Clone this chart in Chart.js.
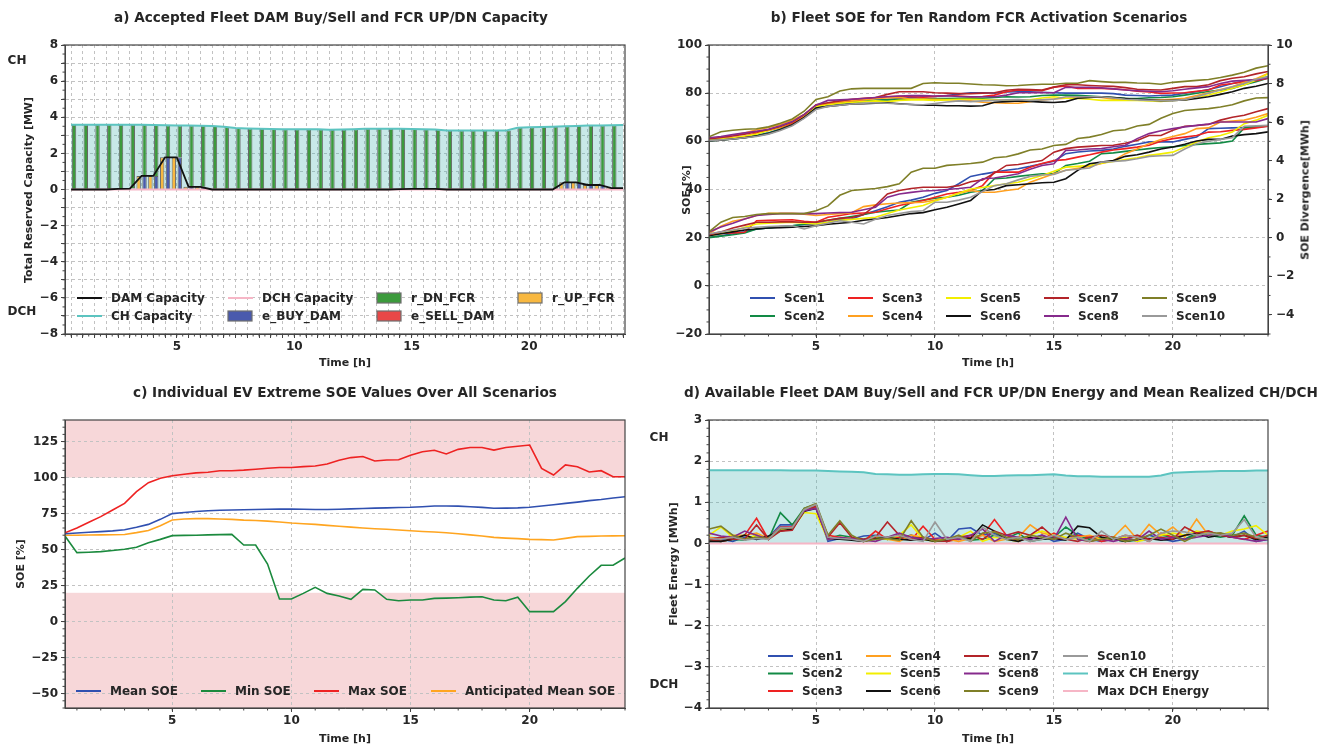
<!DOCTYPE html>
<html>
<head>
<meta charset="utf-8">
<script src="https://cdn.jsdelivr.net/npm/chart.js@4.4.1/dist/chart.umd.min.js"></script>
<style>
  body { margin: 0; width: 1338px; height: 749px; position: relative; overflow: hidden; background: #fff;
         font-family: "DejaVu Sans", sans-serif; color: #262626; }
  canvas { position: absolute; }
  .t { position: absolute; font-weight: bold; white-space: nowrap; transform: translate(-50%, -50%); font-size: 11px; }
  .h { font-size: 13.6px; }
  .r { transform: translate(-50%, -50%) rotate(-90deg); }
  .l { font-size: 12px; }
</style>
</head>
<body>
<canvas id="cA" width="669" height="374" style="left:0;top:0;width:669px;height:374px"></canvas>
<canvas id="cB" width="669" height="374" style="left:669px;top:0;width:669px;height:374px"></canvas>
<canvas id="cC" width="669" height="375" style="left:0;top:374px;width:669px;height:375px"></canvas>
<canvas id="cD" width="669" height="375" style="left:669px;top:374px;width:669px;height:375px"></canvas>

<div class="t h" style="left:331px;top:17px">a) Accepted Fleet DAM Buy/Sell and FCR UP/DN Capacity</div>
<div class="t h" style="left:979px;top:17px">b) Fleet SOE for Ten Random FCR Activation Scenarios</div>
<div class="t h" style="left:345px;top:392px">c) Individual EV Extreme SOE Values Over All Scenarios</div>
<div class="t h" style="left:1001px;top:392px">d) Available Fleet DAM Buy/Sell and FCR UP/DN Energy and Mean Realized CH/DCH</div>

<div class="t r" style="left:28px;top:190px">Total Reserved Capacity [MW]</div>
<div class="t" style="left:345px;top:362px">Time [h]</div>
<div class="t l" style="left:17px;top:60px">CH</div>
<div class="t l" style="left:22px;top:311px">DCH</div>

<div class="t r" style="left:686px;top:190px">SOE [%]</div>
<div class="t r" style="left:1305px;top:190px">SOE Divergence[MWh]</div>
<div class="t" style="left:988px;top:362px">Time [h]</div>

<div class="t r" style="left:20px;top:564px">SOE [%]</div>
<div class="t" style="left:345px;top:738px">Time [h]</div>

<div class="t r" style="left:673px;top:564px">Fleet Energy [MWh]</div>
<div class="t l" style="left:659px;top:437px">CH</div>
<div class="t l" style="left:664px;top:684px">DCH</div>
<div class="t" style="left:988px;top:738px">Time [h]</div>

<script>
// ---- data: half-hour steps ----
const hours = [0.5, 1, 1.5, 2, 2.5, 3, 3.5, 4, 4.5, 5, 5.5, 6, 6.5, 7, 7.5, 8, 8.5, 9, 9.5, 10,
  10.5, 11, 11.5, 12, 12.5, 13, 13.5, 14, 14.5, 15, 15.5, 16, 16.5, 17, 17.5, 18, 18.5, 19, 19.5, 20,
  20.5, 21, 21.5, 22, 22.5, 23, 23.5, 24];

// a) capacities [MW]
const damCap = [0, 0, 0, 0, 0.03, 0.05, 0.75, 0.75, 1.78, 1.78, 0.15, 0.15, 0, 0, 0, 0, 0, 0, 0, 0,
  0, 0, 0, 0, 0, 0, 0, 0, 0.02, 0.03, 0.04, 0.04, 0, 0, 0, 0, 0, 0, 0, 0,
  0, 0, 0.4, 0.4, 0.25, 0.25, 0.08, 0.08];
const chCap = [3.58, 3.58, 3.58, 3.58, 3.58, 3.58, 3.58, 3.57, 3.56, 3.55, 3.54, 3.53, 3.52, 3.48, 3.4, 3.38, 3.36, 3.35, 3.34, 3.33,
  3.34, 3.33, 3.31, 3.32, 3.34, 3.36, 3.37, 3.37, 3.36, 3.35, 3.34, 3.32, 3.27, 3.26, 3.26, 3.26, 3.26, 3.26, 3.42, 3.44,
  3.46, 3.48, 3.5, 3.52, 3.54, 3.55, 3.56, 3.57];
const dchCap = [0, 0, 0, 0, 0, 0, 0, 0, 0, 0, 0, 0, 0, 0, 0, 0, 0, 0, 0, 0,
  0, 0, 0, 0, 0, 0, 0, 0, 0, 0, 0, 0, 0, 0, 0, 0, 0, 0, 0, 0, 0, 0, 0, 0, 0, 0, 0, 0];
const eBuyDam = [0, 0, 0, 0, 0.03, 0.05, 0.75, 0.75, 1.78, 1.78, 0.15, 0.15, 0, 0, 0, 0, 0, 0, 0, 0,
  0, 0, 0, 0, 0, 0, 0, 0, 0.02, 0.03, 0.04, 0.04, 0, 0, 0, 0, 0, 0, 0, 0,
  0, 0, 0.4, 0.4, 0.25, 0.25, 0.08, 0.08];
const eSellDam = [0, 0, 0, 0, 0, 0, 0, 0, 0, 0, 0, 0, 0, 0, 0, 0, 0, 0, 0, 0,
  0, 0, 0, 0, 0, 0, 0, 0, 0, 0, 0, 0, 0, 0, 0, 0, 0, 0, 0, 0, 0, 0, 0, 0, 0, 0, 0, 0];
const rUpFcr = [0, 0, 0, 0, 0.03, 0.05, 0.75, 0.75, 1.78, 1.78, 0.15, 0.15, 0, 0, 0, 0, 0, 0, 0, 0,
  0, 0, 0, 0, 0, 0, 0, 0, 0.02, 0.03, 0.04, 0.04, 0, 0, 0, 0, 0, 0, 0, 0,
  0, 0, 0.4, 0.4, 0.25, 0.25, 0.08, 0.08];
const rDnFcr = [3.58, 3.58, 3.58, 3.58, 3.55, 3.53, 2.83, 2.82, 1.78, 1.77, 3.39, 3.38, 3.52, 3.48, 3.4, 3.38, 3.36, 3.35, 3.34, 3.33,
  3.34, 3.33, 3.31, 3.32, 3.34, 3.36, 3.37, 3.37, 3.34, 3.32, 3.3, 3.28, 3.27, 3.26, 3.26, 3.26, 3.26, 3.26, 3.42, 3.44,
  3.46, 3.48, 3.1, 3.12, 3.29, 3.3, 3.48, 3.49];

// b) fleet SOE [%] per scenario
const soe1 = [60.5, 61, 61.3, 61.8, 62.5, 63.5, 65, 67, 70, 74, 75, 75.6, 76, 76.5, 77, 77.3, 77.8, 78.2, 78.5, 78.6,
  79, 79.6, 80.2, 80.2, 80, 80.5, 80.6, 80.6, 80.4, 80.2, 80, 80, 80, 80, 79.8, 79.2, 79, 78.8, 79, 79.2,
  80, 80.6, 81.5, 82.7, 84, 85, 85.8, 86.8];
const soe2 = [60.2, 60.6, 61, 61.5, 62.3, 63.5, 65, 67.2, 70.3, 74.5, 75.3, 75.8, 76.2, 76.6, 77, 77.2, 77.4, 77.5, 77.6, 77.8,
  77.8, 77.9, 78, 77.9, 78.2, 78.5, 78.4, 78.5, 79, 79.2, 79.2, 79.1, 78.8, 78.5, 78.2, 77.9, 77.8, 78.1, 78.2, 78.5,
  79.2, 80, 80.7, 81.3, 82, 83.5, 84.8, 86.2];
const soe3 = [61, 61.2, 61.5, 62, 63.5, 64.5, 65.8, 67.5, 70.5, 74.8, 75.5, 76.2, 76.8, 77.3, 78, 78.5, 78.7, 78.5, 78.3, 78.6,
  79, 78.8, 78.5, 78.6, 79.2, 80.6, 81.3, 81.2, 81, 82.5, 83, 82, 82, 82, 81.8, 81.4, 80.8, 80.5, 79.9, 80.1,
  80.2, 80.8, 81.3, 83.4, 84, 84.8, 85.2, 86.2];
const soe4 = [60.8, 61.5, 62.5, 63.5, 64.8, 65.8, 67, 68.8, 71.2, 75, 75.8, 76.5, 77, 77.3, 77.8, 78, 78.2, 77.5, 77.6, 77.5,
  77.3, 77.2, 76.8, 76.2, 76, 75.8, 75.8, 76.5, 77.2, 77.6, 77.9, 78.2, 78.5, 78.2, 77.5, 77.3, 77.2, 77.2, 77.2, 77.5,
  77.9, 79, 80.2, 81.5, 82.7, 84.5, 86, 88.2];
const soe5 = [60.5, 61, 61.5, 62.2, 63, 64.5, 66, 68, 70.8, 74.5, 75.2, 75.8, 76.2, 76.5, 76.8, 76.5, 77, 77.2, 77.2, 77,
  77.2, 77.5, 77.5, 77.3, 77.2, 77, 77, 77.2, 78, 78.5, 77.9, 77.8, 77.5, 77, 77, 77, 77, 76.8, 76.6, 77,
  77.2, 78.2, 79.2, 80.5, 82, 83.4, 85.5, 88];
const soe6 = [60.2, 60.5, 61, 61.5, 62.2, 63.2, 64.8, 66.8, 69.8, 73.8, 74.5, 75, 75.5, 75.6, 75.8, 76, 75.6, 75.3, 75, 75,
  74.8, 74.8, 74.6, 74.8, 76.2, 76.5, 76.8, 76.6, 76.3, 76.1, 76.5, 77.9, 78.2, 78.5, 78.2, 77.8, 77.5, 77.2, 76.9, 77,
  77.2, 77.8, 78.5, 79.5, 80.6, 82, 82.9, 84];
const soe7 = [61, 61.6, 62.2, 63, 64, 64.8, 66.2, 68, 71, 75.2, 76, 76.8, 77.5, 77.9, 78.2, 79.5, 80.6, 80.6, 80.6, 80.2,
  80, 79.8, 79.8, 80, 80.2, 81.2, 81.6, 81.5, 81.3, 82.5, 83.5, 83.5, 83.2, 83, 82.8, 82.3, 81.6, 81.4, 81.3, 82,
  82.7, 82.7, 83.5, 85.2, 86.2, 86.8, 88, 89];
const soe8 = [61.5, 62, 62.8, 63.5, 64.2, 65, 66.5, 68.2, 71.2, 75, 77, 77.2, 77.5, 77.8, 78.2, 78.5, 78.8, 79, 79, 78.8,
  78.9, 78.6, 78.5, 78.5, 78.5, 79.2, 80.2, 80.2, 80.2, 80.2, 82.4, 82.4, 82.4, 82.2, 81.8, 81.3, 81, 80.8, 80.6, 81,
  81.6, 82.2, 82.7, 84, 85, 85.3, 85.5, 86.4];
const soe9 = [61.9, 64, 64.6, 65, 65.2, 66, 67.5, 69.3, 72.5, 77.4, 78.5, 80.9, 81.8, 82, 82, 82, 82, 82, 84, 84.3,
  84.1, 84.1, 83.8, 83.5, 83.4, 83.1, 83.2, 83.5, 83.7, 83.7, 84.1, 84.1, 85.2, 84.8, 84.5, 84.5, 84.2, 84.1, 83.7, 84.5,
  84.9, 85.3, 85.7, 86.5, 87.5, 88.7, 90.4, 91.4];
const soe10 = [60.3, 60.6, 61, 61.5, 62, 63, 64.5, 66.5, 69.5, 73.2, 74.5, 75, 75.5, 75.8, 76, 75.8, 75.5, 75.3, 75.2, 75.7,
  76.3, 76.8, 76.5, 76.8, 77, 77.2, 77.3, 77, 77.2, 77.5, 78.5, 78.5, 78.5, 78.5, 78, 77.5, 77.2, 77, 76.9, 76.9,
  77.3, 78.5, 80, 81.3, 82.7, 84, 85.8, 86.8];

// b) SOE divergence [MWh] per scenario
const div1 = [0.02, 0.1, 0.2, 0.3, 0.45, 0.5, 0.58, 0.62, 0.68, 0.71, 0.8, 0.92, 0.97, 1.2, 1.4, 1.6, 1.84, 1.95, 2.1, 2.3,
  2.45, 2.8, 3.18, 3.3, 3.4, 3.5, 3.58, 3.7, 3.84, 3.97, 4.36, 4.45, 4.5, 4.53, 4.6, 4.74, 4.85, 4.97, 4.97, 4.97,
  5.1, 5.22, 5.66, 5.68, 5.7, 5.72, 5.75, 5.78];
const div2 = [0, 0.08, 0.15, 0.25, 0.45, 0.5, 0.55, 0.62, 0.7, 0.8, 0.9, 1, 1.1, 1.2, 1.32, 1.38, 1.44, 1.84, 1.95, 2.05,
  2.1, 2.2, 2.36, 2.45, 3.06, 3.1, 3.18, 3.25, 3.32, 3.32, 3.75, 3.85, 3.97, 4.36, 4.4, 4.48, 4.55, 4.62, 4.68, 4.71,
  4.78, 4.84, 4.88, 4.92, 5.02, 5.7, 5.75, 5.8];
const div3 = [0.2, 0.22, 0.25, 0.28, 0.88, 0.9, 0.92, 0.93, 0.85, 0.8, 1.06, 1.15, 1.25, 1.28, 1.32, 1.5, 1.67, 1.8, 1.93, 2.1,
  2.27, 2.35, 2.45, 2.7, 3.4, 3.4, 3.4, 3.66, 3.85, 4, 4.05, 4.18, 4.3, 4.44, 4.55, 4.62, 4.7, 4.8, 5, 5.14,
  5.22, 5.3, 5.48, 5.5, 5.57, 5.62, 5.7, 5.78];
const div4 = [0.2, 0.6, 0.85, 0.97, 1.15, 1.27, 1.27, 1.27, 1.22, 1.15, 1.2, 1.25, 1.3, 1.61, 1.7, 1.76, 1.8, 1.82, 1.84, 1.95,
  2.1, 2.3, 2.45, 2.36, 2.36, 2.45, 2.53, 2.88, 3.1, 3.32, 3.5, 3.6, 3.7, 3.85, 4, 4.36, 4.6, 4.88, 5.1, 5.25,
  5.4, 5.66, 5.7, 6, 6.05, 6.1, 6.25, 6.44];
const div5 = [0.1, 0.2, 0.35, 0.54, 0.71, 0.75, 0.78, 0.8, 0.75, 0.71, 0.8, 0.9, 0.95, 1, 1.06, 1.25, 1.44, 1.55, 1.67, 1.9,
  2.1, 2.3, 2.53, 2.6, 2.7, 2.8, 2.88, 3.05, 3.23, 3.45, 3.66, 3.7, 3.75, 3.87, 3.95, 4.05, 4.15, 4.27, 4.35, 4.44,
  4.7, 4.97, 5.19, 5.3, 5.48, 5.92, 6.1, 6.35];
const div6 = [0.1, 0.2, 0.3, 0.4, 0.45, 0.5, 0.52, 0.54, 0.58, 0.62, 0.7, 0.75, 0.8, 0.9, 0.97, 1.05, 1.15, 1.25, 1.3, 1.45,
  1.58, 1.75, 1.93, 2.45, 2.5, 2.7, 2.75, 2.8, 2.85, 2.88, 3.06, 3.49, 3.84, 3.92, 4, 4.22, 4.3, 4.44, 4.6, 4.71,
  4.85, 5.02, 5.1, 5.1, 5.27, 5.35, 5.4, 5.49];
const div7 = [0.15, 0.3, 0.5, 0.65, 0.8, 0.8, 0.82, 0.82, 0.8, 0.8, 0.9, 1, 1.05, 1.2, 1.67, 2.27, 2.45, 2.55, 2.62, 2.62,
  2.62, 2.7, 2.9, 3, 3.35, 3.75, 3.8, 3.9, 4, 4.44, 4.62, 4.7, 4.74, 4.78, 4.8, 4.9, 5.05, 5.3, 5.3, 5.57,
  5.78, 5.82, 5.88, 6.1, 6.25, 6.35, 6.53, 6.7];
const div8 = [0.3, 0.55, 0.75, 0.97, 1.15, 1.2, 1.25, 1.25, 1.25, 1.25, 1.28, 1.3, 1.32, 1.45, 1.58, 2.1, 2.27, 2.35, 2.42, 2.45,
  2.5, 2.55, 2.62, 3.06, 3.1, 3.2, 3.32, 3.55, 3.75, 3.84, 4.53, 4.55, 4.6, 4.62, 4.72, 4.8, 5.14, 5.4, 5.55, 5.66,
  5.75, 5.83, 5.9, 6, 6, 6, 6, 6.18];
const div9 = [0.3, 0.8, 1.05, 1.1, 1.2, 1.25, 1.25, 1.25, 1.25, 1.4, 1.65, 2.2, 2.45, 2.5, 2.55, 2.65, 2.8, 3.4, 3.6, 3.6,
  3.75, 3.8, 3.85, 3.92, 4.15, 4.2, 4.35, 4.55, 4.6, 4.78, 4.84, 5.15, 5.22, 5.35, 5.55, 5.6, 5.8, 5.88, 6.2, 6.45,
  6.6, 6.65, 6.7, 6.78, 6.9, 7.1, 7.25, 7.27];
const div10 = [0.2, 0.3, 0.4, 0.5, 0.54, 0.58, 0.6, 0.62, 0.45, 0.62, 0.75, 0.88, 0.8, 0.71, 0.95, 1.15, 1.25, 1.35, 1.4, 1.84,
  1.84, 1.95, 2.1, 2.4, 2.7, 2.8, 3, 3.18, 3.25, 3.28, 3.5, 3.55, 3.62, 3.92, 3.95, 4, 4.1, 4.22, 4.25, 4.27,
  4.6, 4.88, 5, 5.1, 5.19, 5.78, 5.8, 5.83];

// c) extreme SOE values [%]
const meanSoe = [61, 61.5, 62, 62.5, 63, 63.8, 65.5, 67.5, 71, 75, 75.8, 76.5, 77, 77.3, 77.5, 77.7, 77.8, 78, 78.1, 78.2,
  78, 77.8, 77.8, 78, 78.3, 78.5, 78.8, 79, 79.2, 79.4, 79.8, 80.3, 80.3, 80.2, 79.8, 79.3, 78.7, 78.8, 79, 79.4,
  80.3, 81.2, 82.1, 83, 84, 84.8, 85.8, 86.7];
const minSoe = [59.4, 47.9, 48.2, 48.6, 49.4, 50.2, 51.6, 54.8, 57.1, 59.7, 59.9, 60, 60.2, 60.4, 60.6, 53.2, 53.2, 40, 15.7, 15.7,
  19.6, 23.8, 19.6, 17.8, 15.5, 22.4, 22, 15.5, 14.5, 15, 15, 16.1, 16.3, 16.6, 17, 17.3, 15, 14.5, 17, 6.9,
  6.9, 6.9, 13.9, 23.1, 31.7, 39.1, 39.1, 44.2];
const maxSoe = [61.7, 65, 69, 72.9, 77.5, 82.1, 90.2, 96.5, 99.5, 101.3, 102.3, 103.3, 103.7, 104.8, 104.8, 105.2, 105.8, 106.5, 107, 107,
  107.6, 108.1, 109.4, 112, 113.9, 114.6, 111.5, 112.2, 112.4, 115.5, 118, 119, 116.4, 119.6, 120.9, 120.9, 119.1, 120.9, 121.8, 122.6,
  106.4, 101.8, 108.8, 107.6, 103.9, 104.8, 100.6, 100.6];
const anticipatedSoe = [60, 60, 60.1, 60.2, 60.3, 60.5, 61.8, 63.3, 66.5, 70.6, 71.2, 71.5, 71.5, 71.2, 71, 70.5, 70.2, 69.8, 69.2, 68.5,
  68, 67.5, 66.8, 66.2, 65.6, 65, 64.5, 64.1, 63.6, 63.1, 62.6, 62.2, 61.7, 61, 60.2, 59.4, 58.5, 58, 57.6, 57.1,
  56.9, 56.7, 57.8, 59, 59.2, 59.4, 59.5, 59.6];
const soeLimits = [[100, 140], [-60, 20]];

// d) fleet energy [MWh] per scenario
const en1 = [0.05, 0.1, 0.05, 0.15, 0.1, 0.15, 0.45, 0.45, 0.8, 0.9, 0.05, 0.12, 0.1, 0.18, 0.2, 0.12, 0.1, 0.2, 0.08, 0.25,
  0.05, 0.35, 0.38, 0.2, 0.25, 0.1, 0.15, 0.1, 0.2, 0.05, 0.1, 0.25, 0.1, 0.05, 0.1, 0.15, 0.05, 0.2, 0.12, 0.05,
  0.1, 0.2, 0.25, 0.2, 0.15, 0.3, 0.05, 0.1];
const en2 = [0.08, 0.05, 0.1, 0.08, 0.2, 0.1, 0.75, 0.45, 0.85, 0.95, 0.12, 0.2, 0.15, 0.1, 0.18, 0.1, 0.15, 0.2, 0.1, 0.1,
  0.05, 0.15, 0.08, 0.1, 0.2, 0.12, 0.25, 0.05, 0.1, 0.15, 0.4, 0.2, 0.1, 0.15, 0.1, 0.05, 0.08, 0.1, 0.2, 0.15,
  0.1, 0.25, 0.2, 0.15, 0.2, 0.67, 0.2, 0.15];
const en3 = [0.1, 0.05, 0.1, 0.2, 0.61, 0.1, 0.4, 0.4, 0.78, 0.9, 0.2, 0.15, 0.1, 0.05, 0.3, 0.1, 0.15, 0.08, 0.42, 0.1,
  0.05, 0.1, 0.15, 0.2, 0.58, 0.2, 0.05, 0.15, 0.1, 0.25, 0.1, 0.2, 0.15, 0.05, 0.1, 0.2, 0.15, 0.05, 0.25, 0.15,
  0.2, 0.25, 0.3, 0.2, 0.15, 0.1, 0.2, 0.3];
const en4 = [0.15, 0.12, 0.2, 0.2, 0.25, 0.12, 0.4, 0.35, 0.8, 0.88, 0.15, 0.12, 0.1, 0.08, 0.15, 0.1, 0.05, 0.2, 0.15, 0.08,
  0.1, 0.05, 0.12, 0.2, 0.05, 0.1, 0.15, 0.45, 0.25, 0.2, 0.1, 0.15, 0.2, 0.1, 0.15, 0.44, 0.1, 0.46, 0.2, 0.4,
  0.15, 0.59, 0.2, 0.25, 0.15, 0.2, 0.1, 0.15];
const en5 = [0.2, 0.4, 0.15, 0.1, 0.2, 0.1, 0.35, 0.35, 0.75, 0.72, 0.1, 0.15, 0.12, 0.05, 0.15, 0.1, 0.2, 0.45, 0.1, 0.05,
  0.1, 0.15, 0.3, 0.05, 0.15, 0.1, 0.05, 0.2, 0.3, 0.2, 0.15, 0.1, 0.05, 0.12, 0.1, 0.15, 0.05, 0.1, 0.2, 0.25,
  0.2, 0.3, 0.25, 0.2, 0.3, 0.35, 0.43, 0.2];
const en6 = [0.05, 0.05, 0.1, 0.2, 0.1, 0.18, 0.3, 0.35, 0.78, 0.85, 0.12, 0.1, 0.08, 0.05, 0.12, 0.15, 0.1, 0.08, 0.1, 0.05,
  0.08, 0.15, 0.12, 0.45, 0.3, 0.1, 0.05, 0.15, 0.1, 0.12, 0.08, 0.42, 0.38, 0.15, 0.1, 0.05, 0.1, 0.12, 0.08, 0.1,
  0.2, 0.25, 0.15, 0.2, 0.15, 0.2, 0.1, 0.15];
const en7 = [0.1, 0.15, 0.1, 0.1, 0.45, 0.1, 0.3, 0.32, 0.8, 0.9, 0.15, 0.5, 0.15, 0.1, 0.15, 0.52, 0.2, 0.1, 0.15, 0.08,
  0.05, 0.15, 0.2, 0.1, 0.3, 0.2, 0.28, 0.2, 0.4, 0.15, 0.1, 0.05, 0.15, 0.2, 0.15, 0.1, 0.2, 0.1, 0.15, 0.1,
  0.4, 0.25, 0.3, 0.2, 0.15, 0.2, 0.12, 0.2];
const en8 = [0.25, 0.18, 0.15, 0.3, 0.2, 0.1, 0.4, 0.38, 0.8, 0.85, 0.1, 0.15, 0.12, 0.08, 0.05, 0.15, 0.25, 0.15, 0.1, 0.12,
  0.15, 0.1, 0.2, 0.35, 0.05, 0.2, 0.15, 0.1, 0.2, 0.1, 0.64, 0.1, 0.05, 0.1, 0.05, 0.12, 0.08, 0.3, 0.1, 0.15,
  0.1, 0.15, 0.2, 0.25, 0.15, 0.1, 0.05, 0.1];
const en9 = [0.35, 0.42, 0.2, 0.1, 0.15, 0.12, 0.35, 0.38, 0.85, 0.97, 0.2, 0.55, 0.2, 0.05, 0.1, 0.12, 0.08, 0.55, 0.15, 0.05,
  0.1, 0.2, 0.05, 0.25, 0.28, 0.15, 0.1, 0.2, 0.15, 0.1, 0.25, 0.15, 0.05, 0.1, 0.15, 0.05, 0.1, 0.2, 0.35, 0.2,
  0.05, 0.2, 0.25, 0.25, 0.2, 0.25, 0.15, 0.1];
const en10 = [0.12, 0.1, 0.15, 0.08, 0.12, 0.1, 0.38, 0.38, 0.82, 0.95, 0.15, 0.12, 0.1, 0.05, 0.18, 0.15, 0.2, 0.1, 0.05, 0.52,
  0.1, 0.15, 0.05, 0.4, 0.2, 0.1, 0.15, 0.05, 0.1, 0.2, 0.1, 0.15, 0.05, 0.3, 0.1, 0.2, 0.15, 0.05, 0.25, 0.3,
  0.28, 0.2, 0.25, 0.2, 0.25, 0.58, 0.15, 0.1];
const maxChEnergy = [1.78, 1.78, 1.78, 1.78, 1.78, 1.78, 1.78, 1.77, 1.77, 1.77, 1.76, 1.75, 1.74, 1.73, 1.69, 1.68, 1.67, 1.67, 1.68, 1.69,
  1.69, 1.68, 1.66, 1.64, 1.64, 1.65, 1.66, 1.66, 1.67, 1.68, 1.65, 1.63, 1.63, 1.62, 1.62, 1.62, 1.62, 1.62, 1.65, 1.72,
  1.73, 1.74, 1.75, 1.76, 1.76, 1.76, 1.77, 1.77];
const maxDchEnergy = [0, 0, 0, 0, 0, 0, 0, 0, 0, 0, 0, 0, 0, 0, 0, 0, 0, 0, 0, 0,
  0, 0, 0, 0, 0, 0, 0, 0, 0, 0, 0, 0, 0, 0, 0, 0, 0, 0, 0, 0, 0, 0, 0, 0, 0, 0, 0, 0];

// ticks
const timeLabels = [5, 10, 15, 20];
const yTicksA = [-8, -7, -6, -5, -4, -3, -2, -1, 0, 1, 2, 3, 4, 5, 6, 7, 8];
const yLabelsA = [-8, -6, -4, -2, 0, 2, 4, 6, 8];
const yTicksB = [-20, 0, 20, 40, 60, 80, 100];
const y2TicksB = [-4, -2, 0, 2, 4, 6, 8, 10];
const yTicksC = [-50, -25, 0, 25, 50, 75, 100, 125];
const yTicksD = [-4, -3, -2, -1, 0, 1, 2, 3];

const scenNames = ['Scen1', 'Scen2', 'Scen3', 'Scen4', 'Scen5', 'Scen6', 'Scen7', 'Scen8', 'Scen9', 'Scen10'];
const scenColors = ['#3050b0', '#128a45', '#ee2222', '#ffa020', '#f2ee00', '#111111', '#b32429', '#862a8c', '#7f7f28', '#999999'];

// ---- helpers ----
const TXT = '#262626', AX = '#444444', GRID = '#c2c2c2';
const FONT = { family: 'DejaVu Sans', size: 12, weight: 'bold' };
const fmt = v => v < 0 ? '\u2212' + Math.abs(v) : String(v);
const pts = ys => ys.map((y, i) => ({ x: hours[i], y }));

function xAxis(min, max, ticks, h) {
  return {
    type: 'linear', min, max, offset: false,
    afterBuildTicks: s => { s.ticks = ticks.map(v => ({ value: v })); },
    afterFit: s => { s.height = h; },
    ticks: { autoSkip: false, maxRotation: 0, padding: 2, color: TXT, font: FONT,
             callback: v => timeLabels.includes(v) ? String(v) : '' },
    grid: { color: GRID, tickColor: AX, tickLength: 4, offset: false },
    border: { color: AX, dash: [3, 3] }
  };
}
function yAxis(min, max, ticks, labels, w, pos, onArea) {
  return {
    type: 'linear', min, max, position: pos,
    afterBuildTicks: s => { s.ticks = ticks.map(v => ({ value: v })); },
    afterFit: s => { s.width = w; },
    ticks: { padding: pos === 'right' ? 4 : 3, color: TXT, font: FONT,
             callback: v => labels.includes(v) ? fmt(v) : '' },
    grid: { color: GRID, tickColor: AX, tickLength: 4, drawOnChartArea: onArea },
    border: { color: AX, dash: [3, 3] }
  };
}
const line = (label, data, color, extra) => Object.assign({
  type: 'line', label, data: pts(data), borderColor: color, backgroundColor: color,
  borderWidth: 1.6, pointRadius: 0, tension: 0, fill: false
}, extra || {});

// frame, minor ticks, shaded limits and the inside legend
const deco = {
  id: 'deco',
  beforeDraw(chart, args, o) {
    if (!o.bands) return;
    const { ctx, chartArea: c } = chart, y = chart.scales.y;
    ctx.save();
    ctx.fillStyle = o.bandColor;
    o.bands.forEach(([lo, hi]) => {
      const t = y.getPixelForValue(hi), b = y.getPixelForValue(lo);
      ctx.fillRect(c.left, t, c.right - c.left, b - t);
    });
    ctx.restore();
  },
  afterDraw(chart, args, o) {
    const { ctx, chartArea: c } = chart;
    ctx.save();
    ctx.strokeStyle = AX;
    ctx.lineWidth = 1.2;
    ctx.strokeRect(c.left, c.top, c.right - c.left, c.bottom - c.top);
    ctx.lineWidth = 1;
    (o.minor || []).forEach(m => {
      const s = chart.scales[m.id];
      for (let k = Math.ceil(s.min / m.step - 1e-9); k * m.step <= s.max + 1e-9; k++) {
        const p = s.getPixelForValue(k * m.step);
        ctx.beginPath();
        if (s.isHorizontal()) { ctx.moveTo(p, c.bottom); ctx.lineTo(p, c.bottom + 2.5); }
        else if (s.position === 'right') { ctx.moveTo(c.right, p); ctx.lineTo(c.right + 2.5, p); }
        else { ctx.moveTo(c.left - 2.5, p); ctx.lineTo(c.left, p); }
        ctx.stroke();
      }
    });
    const lg = o.legend;
    if (lg) {
      ctx.font = 'bold 12px "DejaVu Sans"';
      ctx.textBaseline = 'middle';
      lg.cols.forEach((col, ci) => col.forEach((di, ri) => {
        const ds = chart.data.datasets[di];
        const x = lg.x[ci], y = lg.y[ri];
        if (ds.type === 'bar') {
          ctx.fillStyle = ds.backgroundColor;
          ctx.fillRect(x, y - 5, 24, 10);
          ctx.strokeStyle = '#6e6e6e';
          ctx.lineWidth = 1.2;
          ctx.strokeRect(x, y - 5, 24, 10);
        } else {
          ctx.strokeStyle = ds.borderColor;
          ctx.lineWidth = 2;
          ctx.beginPath(); ctx.moveTo(x, y); ctx.lineTo(x + 25, y); ctx.stroke();
        }
        ctx.fillStyle = TXT;
        ctx.fillText(ds.label, x + 34, y + 0.5);
      }));
    }
    ctx.restore();
  }
};

Chart.defaults.font.family = 'DejaVu Sans';
const base = (padding, deco) => ({
  responsive: false, animation: false, devicePixelRatio: 1,
  layout: { padding },
  plugins: { legend: { display: false }, tooltip: { enabled: false },
             filler: { drawTime: 'beforeDatasetsDraw' }, deco }
});

const bar = (label, data, color, stack) => ({
  type: 'bar', label, data: pts(data), backgroundColor: color, borderColor: '#666666',
  borderWidth: 1, stack, categoryPercentage: 1, barPercentage: 0.75
});

// a)
const optA = base({ top: 45, right: 44, left: 0, bottom: 0 }, {
  minor: [{ id: 'x', step: 0.25 }, { id: 'y', step: 0.5 }],
  legend: { cols: [[0, 1], [2, 5], [6, 4], [3]], x: [77, 228, 377, 518], y: [298, 316] }
});
optA.scales = {
  x: xAxis(0.24, 24.08, hours, 40),
  y: Object.assign(yAxis(-8, 8, yTicksA, yLabelsA, 65, 'left', true), { stacked: true })
};
new Chart(document.getElementById('cA'), {
  type: 'bar',
  data: { datasets: [
    line('DAM Capacity', damCap, '#111111', { stack: 'l0', borderWidth: 1.8 }),
    line('CH Capacity', chCap, '#5cc4c0', { stack: 'l1', borderWidth: 2, fill: 'origin', backgroundColor: 'rgba(72,180,180,0.3)' }),
    line('DCH Capacity', dchCap, '#f6b6c6', { stack: 'l2', borderWidth: 2 }),
    bar('r_UP_FCR', rUpFcr, '#f8b840', 'up'),
    bar('e_SELL_DAM', eSellDam, '#e84848', 'up'),
    bar('e_BUY_DAM', eBuyDam, '#4a5aad', 'dn'),
    bar('r_DN_FCR', rDnFcr, '#3c9a3c', 'dn')
  ] },
  options: optA,
  plugins: [deco]
});

// b)
const soeRows = [soe1, soe2, soe3, soe4, soe5, soe6, soe7, soe8, soe9, soe10];
const divRows = [div1, div2, div3, div4, div5, div6, div7, div8, div9, div10];
const optB = base({ top: 45, right: 0, left: 0, bottom: 0 }, {
  minor: [{ id: 'x', step: 1 }, { id: 'y', step: 5 }, { id: 'y2', step: 1 }],
  legend: { cols: [[0, 1], [2, 3], [4, 5], [6, 7], [8, 9]], x: [81, 179, 277, 375, 473], y: [298, 316] }
});
optB.scales = {
  x: xAxis(0.5, 24, timeLabels, 40),
  y: yAxis(-20, 100, yTicksB, yTicksB, 40, 'left', true),
  y2: yAxis(-5, 10, y2TicksB, y2TicksB, 70, 'right', false)
};
new Chart(document.getElementById('cB'), {
  type: 'line',
  data: { datasets: [
    ...soeRows.map((r, i) => line(scenNames[i], r, scenColors[i], { yAxisID: 'y', order: 10 - i })),
    ...divRows.map((r, i) => line(scenNames[i], r, scenColors[i], { yAxisID: 'y2', order: 10 - i }))
  ] },
  options: optB,
  plugins: [deco]
});

// c)
const optC = base({ top: 46, right: 44, left: 0, bottom: 0 }, {
  bands: soeLimits, bandColor: '#f7d7d9',
  minor: [{ id: 'x', step: 1 }, { id: 'y', step: 5 }],
  legend: { cols: [[0], [1], [2], [3]], x: [76, 201, 314, 431], y: [317] }
});
optC.scales = {
  x: xAxis(0.5, 24, timeLabels, 41),
  y: yAxis(-60, 140, yTicksC, yTicksC, 65, 'left', true)
};
new Chart(document.getElementById('cC'), {
  type: 'line',
  data: { datasets: [
    line('Mean SOE', meanSoe, '#3050b0'),
    line('Min SOE', minSoe, '#1b8a3e'),
    line('Max SOE', maxSoe, '#ee2222'),
    line('Anticipated Mean SOE', anticipatedSoe, '#ffa520')
  ] },
  options: optC,
  plugins: [deco]
});

// d)
const enRows = [en1, en2, en3, en4, en5, en6, en7, en8, en9, en10];
const optD = base({ top: 46, right: 70, left: 0, bottom: 0 }, {
  minor: [{ id: 'x', step: 1 }, { id: 'y', step: 0.2 }],
  legend: { cols: [[0, 1, 2], [3, 4, 5], [6, 7, 8], [9, 10, 11]], x: [99, 197, 295, 394], y: [282, 299.5, 317] }
});
optD.scales = {
  x: xAxis(0.5, 24, timeLabels, 41),
  y: yAxis(-4, 3, yTicksD, yTicksD, 40, 'left', true)
};
new Chart(document.getElementById('cD'), {
  type: 'line',
  data: { datasets: [
    ...enRows.map((r, i) => line(scenNames[i], r, scenColors[i], { order: 10 - i })),
    line('Max CH Energy', maxChEnergy, '#5cc4c0', { borderWidth: 2, fill: 'origin', backgroundColor: 'rgba(72,180,180,0.3)', order: 20 }),
    line('Max DCH Energy', maxDchEnergy, '#f6b6c6', { borderWidth: 2, order: 21 })
  ] },
  options: optD,
  plugins: [deco]
});
</script>
</body>
</html>
